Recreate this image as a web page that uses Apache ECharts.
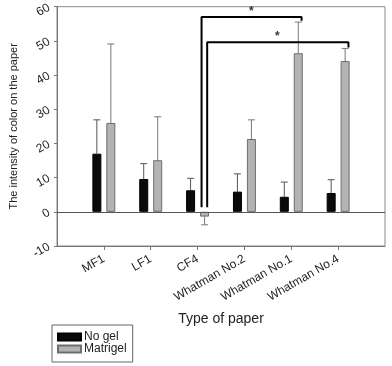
<!DOCTYPE html>
<html>
<head>
<meta charset="utf-8">
<script src="https://cdn.jsdelivr.net/npm/echarts@6/dist/echarts.min.js"></script>
<style>
  html, body { margin: 0; padding: 0; background: #fff; }
  #app { width: 392px; height: 366px; }
</style>
</head>
<body>
<div id="app"></div>
<script>
const categories = ['MF1', 'LF1', 'CF4', 'Whatman No.2', 'Whatman No.1', 'Whatman No.4']
const noGel = [17.0, 9.6, 6.3, 5.9, 4.4, 5.5]
const noGelSd = [9.9, 4.5, 3.5, 5.2, 4.3, 3.9]
const matrigel = [26.0, 15.1, -1.4, 21.3, 46.4, 44.1]
const matrigelSd = [23.1, 12.7, 2.4, 5.6, 9.1, 3.7]
const yTicks = [-10, 0, 10, 20, 30, 40, 50, 60]

// significance brackets, in (x position, value) of the hidden value axis 0..7
const bracket1 = [[3.085, 1.3], [3.085, 57.0], [5.22, 57.0], [5.22, 55.9]]
const bracket2 = [[3.205, 1.3], [3.205, 49.6], [6.22, 49.6], [6.22, 48.1]]
const stars = [[4.15, 58.6], [4.7, 51.2]]

const font = 'Liberation Sans, Arial, sans-serif'
// padded so the ticks sit at 1..6 of a 0..7 range
const xData = [''].concat(categories).concat([' '])
const pad = arr => ['-'].concat(arr).concat(['-'])

const BAR_W = 9
const OFF = 7

function errBar(values, sds, dx, color) {
  return {
    type: 'custom',
    xAxisIndex: 0,
    silent: true,
    z: 1,
    data: values.map((v, i) => [i + 1, v, sds[i]]),
    renderItem(params, api) {
      const v = api.value(1)
      const sd = api.value(2)
      const end = v >= 0 ? v + sd : v - sd
      const p0 = api.coord([api.value(0), v])
      const p1 = api.coord([api.value(0), end])
      const x = p0[0] + dx
      const style = { stroke: color, lineWidth: 1 }
      return {
        type: 'group',
        children: [
          { type: 'line', shape: { x1: x, y1: p0[1], x2: x, y2: p1[1] }, style },
          { type: 'line', shape: { x1: x - 3.5, y1: p1[1], x2: x + 3.5, y2: p1[1] }, style }
        ]
      }
    }
  }
}

function bracket(data) {
  return {
    type: 'line',
    xAxisIndex: 1,
    data,
    symbol: 'none',
    silent: true,
    z: 5,
    lineStyle: { color: '#000', width: 2 }
  }
}

const chart = echarts.init(document.getElementById('app'))
chart.setOption({
  animation: false,
  textStyle: { fontFamily: font },
  grid: {
    left: 53,
    right: 7,
    top: 5,
    bottom: 120,
    show: true,
    borderColor: '#8a8a8a',
    borderWidth: 1
  },
  legend: {
    data: ['No gel', 'Matrigel'],
    orient: 'vertical',
    left: 52,
    top: 325,
    padding: [6, 6, 7, 5],
    itemGap: 0,
    itemWidth: 23,
    itemHeight: 7,
    icon: 'rect',
    borderColor: '#666',
    borderWidth: 1,
    textStyle: { fontSize: 12, lineHeight: 12, color: '#222', fontFamily: font, padding: [0, 0, 0, -2] }
  },
  xAxis: [
    {
      type: 'category',
      data: xData,
      boundaryGap: false,
      axisLine: { onZero: false, lineStyle: { color: '#777' } },
      axisTick: {
        length: 4,
        lineStyle: { color: '#777' },
        interval: (i, v) => v.trim() !== ''
      },
      axisLabel: {
        interval: 0,
        rotate: 30,
        margin: 12,
        fontSize: 12,
        color: '#222',
        fontFamily: font
      },
      name: 'Type of paper',
      nameLocation: 'middle',
      nameGap: 66,
      nameTextStyle: { fontSize: 14, color: '#222', fontFamily: font }
    },
    {
      type: 'value',
      min: 0,
      max: 7,
      show: false
    }
  ],
  yAxis: {
    type: 'value',
    min: yTicks[0],
    max: yTicks[yTicks.length - 1],
    interval: 10,
    axisLine: { show: true, lineStyle: { color: '#777' } },
    axisTick: { show: true, length: 3, lineStyle: { color: '#777' } },
    splitLine: { show: false },
    axisLabel: { rotate: 30, fontSize: 12, color: '#222', margin: 8, fontFamily: font },
    name: 'The intensity of color on the paper',
    nameLocation: 'middle',
    nameGap: 38,
    nameTextStyle: { fontSize: 11, color: '#222', fontFamily: font }
  },
  series: [
    {
      name: 'No gel',
      type: 'bar',
      data: pad(noGel),
      barWidth: BAR_W,
      barGap: '55%',
      z: 2,
      itemStyle: { color: '#0a0a0a', borderColor: '#000', borderWidth: 1 },
      markLine: {
        silent: true,
        symbol: 'none',
        label: { show: false },
        lineStyle: { color: '#555', type: 'solid', width: 1 },
        data: [{ yAxis: 0 }]
      }
    },
    {
      name: 'Matrigel',
      type: 'bar',
      data: pad(matrigel),
      barWidth: BAR_W,
      z: 2,
      itemStyle: { color: '#b3b3b3', borderColor: '#6e6e6e', borderWidth: 1 }
    },
    errBar(noGel, noGelSd, -OFF, '#555'),
    errBar(matrigel, matrigelSd, OFF, '#777'),
    bracket(bracket1),
    bracket(bracket2),
    {
      type: 'scatter',
      xAxisIndex: 1,
      data: stars,
      symbolSize: 0,
      silent: true,
      label: {
        show: true,
        position: 'inside',
        formatter: '*',
        fontSize: 12,
        fontWeight: 'bold',
        color: '#000'
      }
    }
  ]
})
</script>
</body>
</html>
